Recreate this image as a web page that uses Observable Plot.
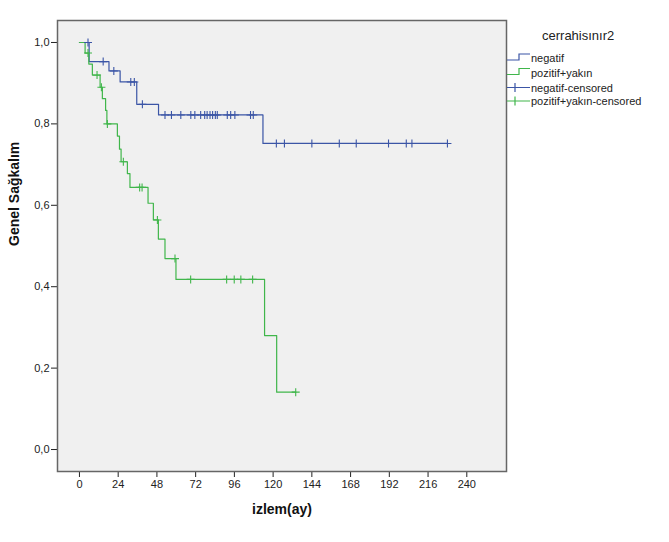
<!DOCTYPE html>
<html>
<head>
<meta charset="utf-8">
<script src="https://cdn.jsdelivr.net/npm/d3@7"></script>
<script src="https://cdn.jsdelivr.net/npm/@observablehq/plot@0.6"></script>
<style>
  html, body { margin: 0; padding: 0; background: white; }
  #wrap { position: relative; width: 669px; height: 542px; font-family: "Liberation Sans", Arial, sans-serif; }
  #legend { position: absolute; left: 0; top: 0; }
</style>
</head>
<body>
<div id="wrap"></div>
<script>
// ---- data ----
const groups = ["negatif", "pozitif+yakın"];
const colors = ["#3b55a6", "#40b64b"];

// negatif: event times and survival after each event
const negDropT = [6, 18.3, 25.2, 35.5, 49, 113.7];
const negDropS = [0.953, 0.930, 0.903, 0.848, 0.822, 0.752];
const negCensT = [5.3, 14.7, 21.3, 31.8, 34, 39, 53, 57, 62.8, 69, 71.5, 75.1, 77.6, 79.1, 80.9, 82.5, 84.2, 85.4, 91.6, 93.7, 96.3, 106, 107.7, 122, 127, 144, 161, 171.5, 191.5, 202.5, 206, 228];

// pozitif+yakın
const posDropT = [3.5, 5.8, 8, 12.8, 14.2, 16.2, 17, 23.5, 24.8, 25.8, 29.7, 31.3, 42.5, 45.8, 48.9, 53, 59.8, 114.7, 122.2];
const posDropS = [0.974, 0.947, 0.920, 0.890, 0.862, 0.833, 0.80, 0.77, 0.738, 0.707, 0.678, 0.644, 0.605, 0.564, 0.517, 0.469, 0.418, 0.280, 0.141];
const posCensT = [5.3, 10.9, 13.6, 17.3, 27.2, 37.3, 38.8, 48.3, 59.2, 68.9, 91.2, 95.9, 100, 107.3, 134];

const xTicks = [0, 24, 48, 72, 96, 120, 144, 168, 192, 216, 240];
const yTicks = [0, 0.2, 0.4, 0.6, 0.8, 1.0];

const legendTitle = "cerrahisınır2";
const legendLabels = ["negatif", "pozitif+yakın", "negatif-censored", "pozitif+yakın-censored"];

// ---- build tables ----
function survAt(t, dT, dS) {
  let s = 1;
  for (let i = 0; i < dT.length; i++) if (dT[i] <= t) s = dS[i];
  return s;
}
function stepRows(g, dT, dS, cT) {
  const end = Math.max(d3.max(cT), d3.max(dT));
  const rows = [{g, t: 0, s: 1}];
  dT.forEach((t, i) => rows.push({g, t, s: dS[i]}));
  rows.push({g, t: end, s: survAt(end, dT, dS)});
  return rows;
}
function censRows(g, dT, dS, cT) {
  return cT.map(t => ({g, t, s: survAt(t, dT, dS)}));
}
const lines = [
  ...stepRows(groups[0], negDropT, negDropS, negCensT),
  ...stepRows(groups[1], posDropT, posDropS, posCensT)
];
const cens = [
  ...censRows(groups[0], negDropT, negDropS, negCensT),
  ...censRows(groups[1], posDropT, posDropS, posCensT)
];

const crossSymbol = {
  draw(ctx, size) {
    const r = Math.sqrt(size / Math.PI);
    ctx.moveTo(-r, 0); ctx.lineTo(r, 0);
    ctx.moveTo(0, -r); ctx.lineTo(0, r);
  }
};

const fmt = d => d.toFixed(1).replace(".", ",");

const chart = Plot.plot({
  width: 669,
  height: 542,
  marginLeft: 57,
  marginRight: 163,
  marginTop: 20,
  marginBottom: 71,
  style: { fontSize: "11px", fontFamily: "'Liberation Sans', Arial, sans-serif", color: "#222", background: "white" },
  x: { domain: [-13.6, 264.6] },
  y: { domain: [-0.054, 1.054] },
  color: { domain: groups, range: colors },
  marks: [
    Plot.frame({ fill: "#f0f0f0" }),
    Plot.line(lines, { x: "t", y: "s", z: "g", stroke: "g", curve: "step-after", strokeWidth: 1.2 }),
    Plot.dot(cens, { x: "t", y: "s", stroke: "g", symbol: crossSymbol, r: 4, strokeWidth: 1.1, fill: "none" }),
    Plot.axisX({ ticks: xTicks, tickSize: 6, tickPadding: 3, label: null, tickFormat: d => String(d) }),
    Plot.axisY({ ticks: yTicks, tickSize: 6, tickPadding: 2, label: null, tickFormat: fmt }),
    Plot.frame({ stroke: "#666", strokeWidth: 1.5 }),
    Plot.text(["izlem(ay)"], { frameAnchor: "bottom", dy: 42, text: d => d, fontWeight: "bold", fontSize: 14, fill: "#111" }),
    Plot.text(["Genel Sağkalım"], { frameAnchor: "left", dx: -43, rotate: -90, text: d => d, fontWeight: "bold", fontSize: 14, fill: "#111" })
  ]
});

const wrap = document.getElementById("wrap");
wrap.appendChild(chart);

// ---- legend ----
const ns = "http://www.w3.org/2000/svg";
const leg = d3.create("svg").attr("id", "legend").attr("width", 669).attr("height", 120)
  .style("position", "absolute").style("left", "0px").style("top", "0px")
  .style("font-family", "'Liberation Sans', Arial, sans-serif");
leg.append("text").attr("x", 542).attr("y", 40).attr("font-size", 13).attr("fill", "#222").text(legendTitle);
const rowY = [58, 72.5, 87.5, 101];
legendLabels.forEach((lab, i) => {
  const y = rowY[i];
  const c = colors[i % 2];
  if (i < 2) {
    leg.append("path").attr("d", `M507,${y + 2}H519V${y - 4}H530`).attr("fill", "none").attr("stroke", c).attr("stroke-width", 1.2);
  } else {
    leg.append("path").attr("d", `M507,${y}H530M515,${y - 4.5}V${y + 4.5}`).attr("fill", "none").attr("stroke", c).attr("stroke-width", 1.2);
  }
  leg.append("text").attr("x", 531).attr("y", y + 4).attr("font-size", 11).attr("fill", "#222").text(lab);
});
wrap.appendChild(leg.node());
</script>
</body>
</html>
